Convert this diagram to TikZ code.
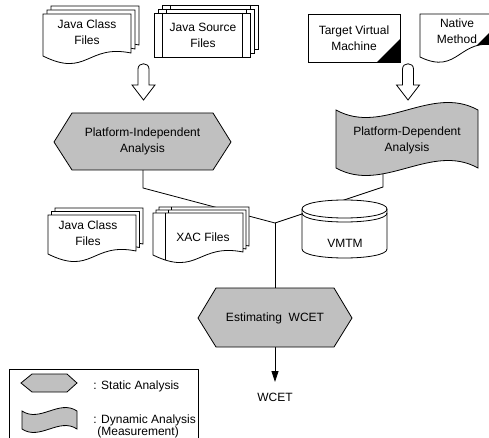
\documentclass[tikz,border=0pt]{standalone}
\usepackage{fontspec}
\setmainfont{Liberation Sans}
\usetikzlibrary{arrows.meta}
\definecolor{shapegray}{RGB}{192,192,192}
% document page: #1 command, #2 x, #3 top y, #4 width, #5 bottom-left y
\newcommand{\docp}[5]{#1 (#2,#3) -- ({#2+#4},#3) -- ({#2+#4},{#5-3}) .. controls ({#2+0.5*#4},{#5-12}) and ({#2+0.5*#4},{#5+22}) .. (#2,#5) -- cycle;}
% predefined-process page
\newcommand{\procpage}[4]{\path[pagestyle] (#1,#2) rectangle (#3,#4);
 \draw ({#1+8},#2) -- ({#1+8},#4);
 \draw ({#3-8},#2) -- ({#3-8},#4);}
% document page with inner left line
\newcommand{\xacpage}[4]{\begin{scope}
 \docp{\path[fill=white]}{#1}{#2}{#3}{#4}
 \docp{\clip}{#1}{#2}{#3}{#4}
 \draw ({#1+12},#2) -- ({#1+12},{#4+20});
 \end{scope}
 \docp{\draw}{#1}{#2}{#3}{#4}}
% outline block arrow pointing down
\newcommand{\blockarrow}[1]{\path[pagestyle] ({#1-5.5},85) -- ({#1-5.5},69) .. controls ({#1-5.5},62) and ({#1+5.5},62) .. ({#1+5.5},69) -- ({#1+5.5},85) -- ({#1+11.5},85) -- (#1,100) -- ({#1-11.5},85) -- cycle;}
\begin{document}
\begin{tikzpicture}[x=1pt,y=-1pt,line width=0.8pt,line join=miter,
  pagestyle/.style={fill=white,draw=black},
  grayshape/.style={fill=shapegray,draw=black},
  lbl/.style={font=\fontsize{12}{16}\selectfont,align=center,inner sep=0pt},
  conn/.style={draw=black,line width=0.8pt}]
\useasboundingbox (0,0) rectangle (489,438);
\clip (0,0) rectangle (489,438);

% connector end points
\coordinate (pib) at (143,168);
\coordinate (pia) at (143,188);
\coordinate (junc) at (275,223);
\coordinate (pdb) at (383,170);
\coordinate (pda) at (383,187);
\coordinate (ewt) at (275,288);
\coordinate (ewb) at (275,347);
\coordinate (wtip) at (275,382);

\draw[conn] (pib) -- (pia) -- (junc);
\draw[conn] (pdb) -- (pda) -- (junc);
\draw[conn] (junc) -- (ewt);
\draw[conn,-{Triangle[length=11pt,width=7pt]}] (ewb) -- (wtip);

% top: Java Class Files
\foreach \k in {2,1,0}{\docp{\path[pagestyle]}{43+\k*4}{14-\k*4}{88}{56-\k*4}}
\node[lbl] (jcf1) at (87,32) {Java Class\\Files};

% Java Source Files
\foreach \k in {2,1,0}{\procpage{154+\k*4}{13-\k*4}{250+\k*4}{57-\k*4}}
\node[lbl] (jsf) at (203,35) {Java Source\\Files};

% Target Virtual Machine
\path[pagestyle] (308,14) rectangle (400,62);
\fill[black] (377,62) -- (400,62) -- (400,39) -- cycle;
\draw (308,14) rectangle (400,62);
\node[lbl] (tvm) at (354,38) {Target Virtual\\Machine};

% Native Method
\path[fill=white] (420,14) -- (498,14) -- (498,46) .. controls (459,36) and (459,76) .. (420,57) -- cycle;
\begin{scope}
\clip (420,14) -- (498,14) -- (498,46) .. controls (459,36) and (459,76) .. (420,57) -- cycle;
\fill[black] (470,52) -- (498,24) -- (498,60) -- cycle;
\end{scope}
\draw (420,14) -- (498,14) -- (498,46) .. controls (459,36) and (459,76) .. (420,57) -- cycle;
\node[lbl] (nm) at (457,31) {Native\\Method};

% block arrows
\blockarrow{143.5}
\blockarrow{408}

% Platform-Independent Analysis
\path[grayshape] (54,142) -- (72,113) -- (213,113) -- (231,142) -- (213,170) -- (72,170) -- cycle;
\node[lbl] (pia-t) at (142.5,141) {Platform-Independent\\Analysis};

% Platform-Dependent Analysis
\path[grayshape] (336,110) .. controls (383,136) and (431,84) .. (478,110) -- (478,168) .. controls (431,142) and (383,194) .. (336,168) -- cycle;
\node[lbl] (pda-t) at (407,140) {Platform-Dependent\\Analysis};

% bottom: Java Class Files
\foreach \k in {2,1,0}{\docp{\path[pagestyle]}{48+\k*3.5}{215-\k*3.5}{88}{254-\k*3.5}}
\node[lbl] (jcf2) at (88,233) {Java Class\\Files};

% XAC Files
\foreach \k in {2,1,0}{\xacpage{153+\k*3}{213-\k*3}{90}{255-\k*3}}
\node[lbl] (xac) at (203,237) {XAC Files};

% VMTM cylinder
\path[pagestyle] (302,209) -- (302,249) .. controls (302,261) and (387,261) .. (387,249) -- (387,209) .. controls (387,197) and (302,197) .. (302,209) -- cycle;
\draw (302,209) .. controls (302,221) and (387,221) .. (387,209);
\draw (302,213) .. controls (302,225) and (387,225) .. (387,213);
\node[lbl] (vmtm) at (345,243) {VMTM};

% Estimating WCET
\path[grayshape] (198,318) -- (216,288) -- (334,288) -- (352,318) -- (334,347) -- (216,347) -- cycle;
\node[lbl] (est) at (275,318) {Estimating~ WCET};
\node[lbl] (wcet) at (275,397) {WCET};

% legend
\draw (9,369) rectangle (198,450);
\path[grayshape] (21,383) -- (32,374) -- (67,374) -- (77,383) -- (67,392) -- (32,392) -- cycle;
\path[grayshape] (22,411) .. controls (40,423) and (59,399) .. (77,411) -- (77,429) .. controls (59,417) and (40,441) .. (22,429) -- cycle;
\node[lbl,anchor=west] (lstat) at (93,386) {: Static Analysis};
\node[lbl,anchor=west] (ldyn) at (93,420) {: Dynamic Analysis};
\node[lbl,anchor=west] (lmeas) at (97,432) {(Measurement)};
\end{tikzpicture}
\end{document}
